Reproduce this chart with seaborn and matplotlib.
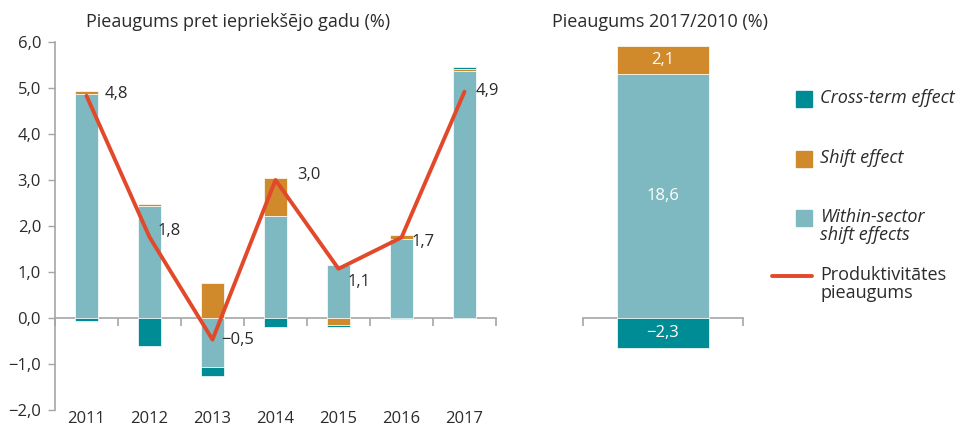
import numpy as np
import seaborn as sns
import matplotlib.pyplot as plt
from matplotlib.lines import Line2D
from matplotlib.patches import Rectangle

# data
years = ["2011", "2012", "2013", "2014", "2015", "2016", "2017"]
within_sector = [4.88, 2.44, -1.06, 2.21, 1.16, 1.72, 5.37]
shift_effect = [0.05, 0.04, 0.76, 0.83, -0.16, 0.08, 0.04]
cross_term = [-0.07, -0.60, -0.19, -0.20, -0.04, -0.03, 0.04]
growth = [4.83, 1.76, -0.47, 3.00, 1.07, 1.75, 4.92]
growth_labels = ["4,8", "1,8", "−0,5", "3,0", "1,1", "1,7", "4,9"]

total_within = [18.6]
total_shift = [2.1]
total_cross = [-2.3]
total_labels = ["18,6", "2,1", "−2,3"]

legend_labels = ["Cross-term effect", "Shift effect", "Within-sector\nshift effects",
                 "Produktivitātes\npieaugums"]

C_WITHIN = "#7EB9C1"
C_SHIFT = "#D08A2C"
C_CROSS = "#008C95"
C_LINE = "#E2492A"
C_AXIS = "#A5A5A5"
C_TEXT = "#2B2B2B"

sns.set_theme(style="white")
plt.rcParams["font.family"] = ["Open Sans", "DejaVu Sans"]
plt.rcParams["text.color"] = C_TEXT

W, H = 961, 428
fig = plt.figure(figsize=(W / 100, H / 100), dpi=100)


def px(x, y):
    return x / W, 1 - y / H


def stacked_bars(ax, x, layers, colors, width):
    pos = np.zeros(len(x))
    neg = np.zeros(len(x))
    for vals, col in zip(layers, colors):
        vals = np.asarray(vals, dtype=float)
        bottom = np.where(vals >= 0, pos, neg)
        ax.bar(x, vals, width, bottom=bottom, color=col,
               edgecolor="white", linewidth=0.5, zorder=1)
        pos += np.clip(vals, 0, None)
        neg += np.clip(vals, None, 0)


def zero_axis(ax, ticks):
    sec = ax.secondary_xaxis(0, transform=ax.transData)
    sec.set_xticks(ticks, labels=[""] * len(ticks))
    sec.tick_params(direction="out", length=6, width=1.2, color=C_AXIS)
    sec.spines["bottom"].set_color(C_AXIS)
    sec.spines["bottom"].set_linewidth(1.2)
    return sec


# left panel
ax = fig.add_axes([55 / W, 18 / H, 441 / W, 368 / H])
x = np.arange(len(years))
stacked_bars(ax, x, [within_sector, shift_effect, cross_term],
             [C_WITHIN, C_SHIFT, C_CROSS], 0.38)
sns.lineplot(x=x, y=growth, ax=ax, color=C_LINE, linewidth=2.8,
             legend=False, zorder=3)

label_offsets = [(18, 2), (8, 6), (9, 0), (22, 5), (9, -13), (10, -4), (11, 1)]
for xi, yi, lab, (dx, dy) in zip(x, growth, growth_labels, label_offsets):
    ax.annotate(lab, (xi, yi), xytext=(dx * 0.72, dy * 0.72),
                textcoords="offset points", ha="left", va="center",
                fontsize=12, color=C_TEXT)

ax.set_xlim(-0.5, 6.5)
ax.set_ylim(-2, 6)
ax.set_yticks(np.arange(-2, 7))
ax.set_yticklabels([f"{v:.1f}".replace(".", ",").replace("-", "−")
                    for v in np.arange(-2, 7)])
ax.set_xticks(x)
ax.set_xticklabels(years)
ax.tick_params(axis="y", direction="out", length=5, width=1, color=C_AXIS,
               labelsize=12, labelcolor=C_TEXT, pad=5, left=True)
ax.tick_params(axis="x", length=0, labelsize=12, labelcolor=C_TEXT, pad=1)
for s in ["top", "right", "bottom"]:
    ax.spines[s].set_visible(False)
ax.spines["left"].set_color(C_AXIS)
ax.spines["left"].set_linewidth(1.2)
zero_axis(ax, np.arange(-0.5, 7, 1))

# right panel
ax2 = fig.add_axes([583 / W, 18 / H, 160 / W, 368 / H])
stacked_bars(ax2, [0], [total_within, total_shift, total_cross],
             [C_WITHIN, C_SHIFT, C_CROSS], 0.58)
ax2.set_xlim(-0.5, 0.5)
ax2.set_ylim(-7, 21)
mids = [total_within[0] / 2, total_within[0] + total_shift[0] / 2, total_cross[0] / 2]
for m, lab in zip(mids, total_labels):
    ax2.text(0, m, lab, ha="center", va="center", color="white", fontsize=12)
ax2.set_yticks([])
ax2.set_xticks([])
for s in ax2.spines.values():
    s.set_visible(False)
zero_axis(ax2, [-0.5, 0.5])

# titles
fig.text(*px(86, 22), "Pieaugums pret iepriekšējo gadu (%)", ha="left",
         va="center", fontsize=13)
fig.text(*px(552, 22), "Pieaugums 2017/2010 (%)", ha="left", va="center",
         fontsize=13)

# legend drawn by hand to keep handles on the first text line
handle_y = [99, 159, 218, 276]
colors = [C_CROSS, C_SHIFT, C_WITHIN]
for yy, col in zip(handle_y[:3], colors):
    x0, y0 = px(796, yy + 8)
    fig.add_artist(Rectangle((x0, y0), 16 / W, 16 / H, color=col,
                             transform=fig.transFigure))
lx0, ly = px(772, handle_y[3])
lx1, _ = px(812, handle_y[3])
fig.add_artist(Line2D([lx0, lx1], [ly, ly], color=C_LINE, linewidth=2.8,
                      transform=fig.transFigure))
for i, (yy, lab) in enumerate(zip(handle_y, legend_labels)):
    fig.text(*px(820, yy - 10), lab, ha="left", va="top", fontsize=13,
             style="italic" if i < 3 else "normal", linespacing=1.03)

fig.savefig("out.png", dpi=100)
